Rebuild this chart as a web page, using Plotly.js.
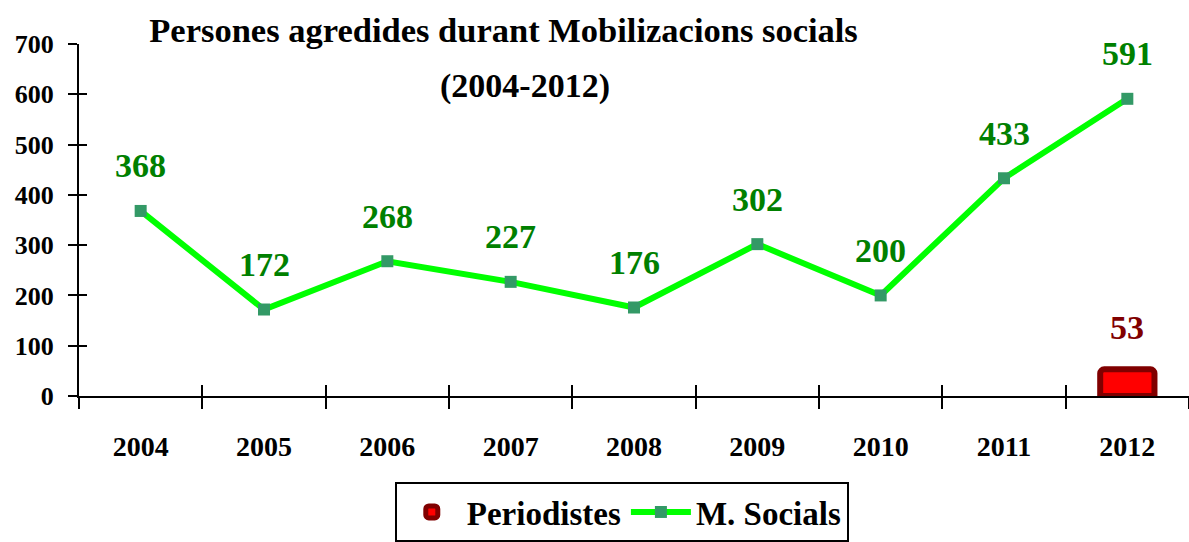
<!DOCTYPE html>
<html>
<head>
<meta charset="utf-8">
<script src="https://cdn.plot.ly/plotly-3.0.1.min.js"></script>
<style>html,body{margin:0;padding:0;background:#fff;}#chart{width:1189px;height:542px;}</style>
</head>
<body>
<div id="chart"></div>
<script>
const years = ['2004','2005','2006','2007','2008','2009','2010','2011','2012'];
const mSocials = [368, 172, 268, 227, 176, 302, 200, 433, 591];
const periodistesYears = ['2012'];
const periodistes = [53];
const yTicks = [0, 100, 200, 300, 400, 500, 600, 700];
const titleLine1 = 'Persones agredides durant Mobilizacions socials';
const titleLine2 = '(2004-2012)';

const serif = 'Liberation Serif, Times New Roman, serif';

const traces = [
  {
    type: 'bar', name: 'Periodistes', x: periodistesYears, y: periodistes,
    xaxis: 'x2', yaxis: 'y2', width: 0.44,
    marker: {color: '#FF0000', line: {color: '#800000', width: 6}, cornerradius: 4},
    hoverinfo: 'x+y'
  },
  {
    type: 'scatter', mode: 'lines+markers', name: 'M. Socials', x: years, y: mSocials,
    line: {color: '#00FF00', width: 6},
    marker: {symbol: 'square', size: 12, color: '#339966', line: {width: 0}}
  }
];

const annotations = [];
mSocials.forEach((v, i) => annotations.push({
  x: years.indexOf(years[i]), y: v, xref: 'x', yref: 'y', text: String(v), showarrow: false,
  yshift: 45, font: {family: serif, size: 34, color: '#008000', weight: 'bold'}
}));
periodistes.forEach((v, i) => annotations.push({
  x: years.indexOf(periodistesYears[i]), y: v, xref: 'x', yref: 'y', text: String(v), showarrow: false,
  yshift: 42, font: {family: serif, size: 34, color: '#800000', weight: 'bold'}
}));
annotations.push({
  x: 0.402, y: 0.88, xref: 'paper', yref: 'paper', yanchor: 'middle', text: titleLine2, showarrow: false,
  font: {family: serif, size: 34, color: '#000', weight: 'bold'}
});

const xCommon = {
  range: [-0.5, 8.5], showline: true, linecolor: '#000', linewidth: 2,
  showgrid: false, zeroline: false, fixedrange: true
};
const yCommon = {
  range: [0, 700], tickvals: yTicks, showline: true, linecolor: '#000', linewidth: 2,
  showgrid: false, zeroline: false, fixedrange: true
};

const layout = {
  width: 1189, height: 542,
  margin: {l: 79, r: 0, t: 44, b: 145},
  paper_bgcolor: '#fff', plot_bgcolor: '#fff',
  title: {text: titleLine1, x: 0.4235, xanchor: 'center', y: 0.945, yanchor: 'middle',
          font: {family: serif, size: 34.5, color: '#000', weight: 'bold'}},
  xaxis: Object.assign({}, xCommon, {
    type: 'category', categoryorder: 'array', categoryarray: years,
    ticks: 'outside', ticklen: 11, tickwidth: 2, tickcolor: '#000', tickson: 'boundaries',
    ticklabelstandoff: 24,
    tickfont: {family: serif, size: 28, color: '#000', weight: 'bold'}
  }),
  xaxis2: Object.assign({}, xCommon, {
    type: 'category', categoryorder: 'array', categoryarray: years,
    overlaying: 'x', anchor: 'y2',
    ticks: 'inside', ticklen: 11, tickwidth: 2, tickcolor: '#000', tickson: 'boundaries',
    showticklabels: false
  }),
  yaxis: Object.assign({}, yCommon, {
    ticks: 'outside', ticklen: 9, tickwidth: 2, tickcolor: '#000',
    ticklabelstandoff: 9,
    tickfont: {family: serif, size: 26, color: '#000', weight: 'bold'}
  }),
  yaxis2: Object.assign({}, yCommon, {
    overlaying: 'y', anchor: 'x2', side: 'left',
    ticks: 'inside', ticklen: 8, tickwidth: 2, tickcolor: '#000', showticklabels: false
  }),
  showlegend: true,
  legend: {
    orientation: 'h', x: 0.489, xanchor: 'center', y: -0.245, yanchor: 'top',
    bordercolor: '#000', borderwidth: 2, bgcolor: '#fff',
    font: {family: serif, size: 33, color: '#000', weight: 'bold'},
    traceorder: 'normal', itemwidth: 60
  },
  annotations: annotations
};

Plotly.newPlot('chart', traces, layout, {displayModeBar: false, staticPlot: true});
</script>
</body>
</html>
